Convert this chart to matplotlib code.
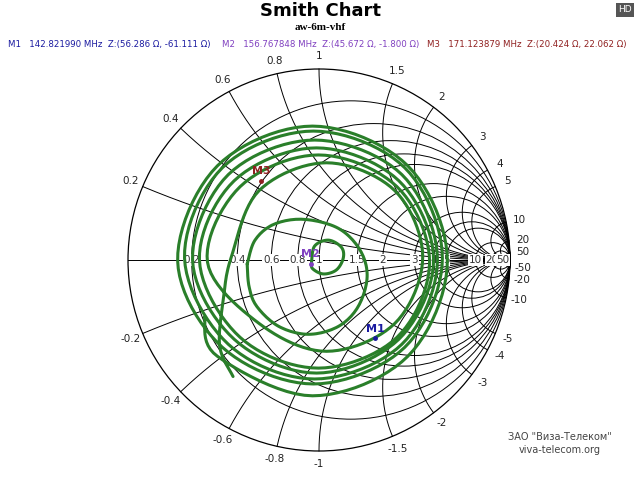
import numpy as np
import matplotlib
matplotlib.use("Agg")
import matplotlib.pyplot as plt
from matplotlib.patches import Circle

# ---------------- data ----------------
r_values = [0.2, 0.4, 0.6, 0.8, 1, 1.5, 2, 3, 4, 5, 10, 20, 50]
x_values = [0.2, 0.4, 0.6, 0.8, 1, 1.5, 2, 3, 4, 5, 10, 20, 50]
r_labels = ["0.2", "0.4", "0.6", "0.8", "1", "1.5", "2", "3", "4", "5", "10", "20", "50"]
x_labels = ["0.2", "0.4", "0.6", "0.8", "1", "1.5", "2", "3", "4", "5", "10", "20", "50"]

loop_re = [-0.039, -0.023, 0.049, 0.117, 0.127, 0.091, 0.023, -0.034, -0.039]
loop_im = [-0.010, 0.073, 0.104, 0.067, 0.010, -0.052, -0.073, -0.045, -0.010]
ring2_re = [-0.376, -0.335, -0.236, -0.080, 0.101, 0.215, 0.252, 0.205, 0.101, -0.055, -0.210, -0.325, -0.366, -0.376]
ring2_im = [-0.021, 0.104, 0.187, 0.213, 0.166, 0.052, -0.088, -0.244, -0.348, -0.389, -0.348, -0.244, -0.140, -0.021]
spiral_re = [-0.45, -0.52, -0.50, -0.459, -0.314, 0.039, 0.397, 0.543, 0.397, 0.039, -0.314,
             -0.584, -0.413, -0.003, 0.408, 0.579, 0.408, -0.003, -0.413,
             -0.626, -0.444, -0.013, 0.418, 0.600, 0.418, -0.013, -0.444,
             -0.662, -0.475, -0.023, 0.434, 0.620, 0.434, -0.023, -0.475,
             -0.704, -0.506, -0.029, 0.449, 0.646, 0.449, -0.029, -0.506,
             -0.740, -0.532, -0.034, 0.465, 0.672, 0.465, -0.034, -0.532, -0.600]
spiral_im = [-0.61, -0.45, -0.20, 0.016, 0.363, 0.509, 0.363, 0.016, -0.332, -0.478, -0.332,
             -0.010, 0.384, 0.550, 0.384, -0.010, -0.405, -0.566, -0.405,
             0.000, 0.415, 0.587, 0.415, 0.000, -0.415, -0.592, -0.415,
             0.000, 0.447, 0.628, 0.447, 0.000, -0.441, -0.623, -0.441,
             0.010, 0.483, 0.675, 0.483, 0.010, -0.457, -0.649, -0.457,
             -0.005, 0.493, 0.701, 0.493, -0.005, -0.504, -0.711, -0.504, -0.300]

marker_names = ["M1", "M2", "M3"]
marker_re = [0.293, -0.044, -0.304]
marker_im = [-0.410, -0.021, 0.415]
marker_colors = ["#1a1aa0", "#8040c0", "#902020"]
marker_texts = ["M1   142.821990 MHz  Z:(56.286 Ω, -61.111 Ω)",
                "M2   156.767848 MHz  Z:(45.672 Ω, -1.800 Ω)",
                "M3   171.123879 MHz  Z:(20.424 Ω, 22.062 Ω)"]


def smooth(xs, ys, n=12):
    P = np.column_stack([xs, ys])
    Pp = np.vstack([P[0], P, P[-1]])
    out = []
    for i in range(1, len(Pp) - 2):
        p0, p1, p2, p3 = Pp[i - 1], Pp[i], Pp[i + 1], Pp[i + 2]
        for t in np.linspace(0, 1, n, endpoint=False):
            out.append(0.5 * ((2 * p1) + (-p0 + p2) * t + (2 * p0 - 5 * p1 + 4 * p2 - p3) * t ** 2
                              + (-p0 + 3 * p1 - 3 * p2 + p3) * t ** 3))
    out.append(P[-1])
    return np.array(out)


fig = plt.figure(figsize=(6.4, 4.8), dpi=100)
ax = fig.add_axes([0, 0, 1, 1])
ax.set_xlim(-319 / 191, 321 / 191)
ax.set_ylim(-220 / 191, 260 / 191)
ax.axis("off")

lw = 0.7
ax.add_patch(Circle((0, 0), 1, fill=False, ec="black", lw=0.9, zorder=2))
ax.plot([-1, 1], [0, 0], color="black", lw=lw, zorder=1)
for r in r_values:
    ax.add_patch(Circle((r / (1 + r), 0), 1 / (1 + r), fill=False, ec="black", lw=lw, zorder=1))
rr = np.concatenate([[0], np.logspace(-3, 4, 600)])
for x in x_values:
    for s in (1, -1):
        z = rr + 1j * s * x
        g = (z - 1) / (z + 1)
        ax.plot(g.real, g.imag, color="black", lw=lw, zorder=1)

for r, lab in zip(r_values, r_labels):
    gx = (r - 1) / (r + 1)
    ax.text(gx, 0, lab, ha="center", va="center", fontsize=7.5, color="#333333",
            bbox=dict(fc="white", ec="none", pad=0.5), zorder=3)

for x, lab in zip(x_values, x_labels):
    for s in (1, -1):
        g = (1j * s * x - 1) / (1j * s * x + 1)
        ang = np.angle(g)
        rad = 1.07
        ax.text(rad * np.cos(ang), rad * np.sin(ang), ("-" if s < 0 else "") + lab,
                ha="center", va="center", fontsize=7.5, color="#222222", zorder=3)

green = "#2a7f2a"
for xs_, ys_ in ((loop_re, loop_im), (ring2_re, ring2_im), (spiral_re, spiral_im)):
    pts = smooth(xs_, ys_)
    ax.plot(pts[:, 0], pts[:, 1], color=green, lw=2.2, zorder=4, solid_capstyle="round")

for n, xr, xi, c in zip(marker_names, marker_re, marker_im, marker_colors):
    ax.plot(xr, xi, "o", ms=2.5, color=c, zorder=5)
    ax.text(xr, xi + 0.025, n, ha="center", va="bottom", fontsize=8, fontweight="bold", color=c, zorder=6)

fig.text(0.5, 1 - 11 / 480, "Smith Chart", ha="center", va="center", fontsize=13, fontweight="bold")
fig.text(0.5, 1 - 28 / 480, "aw-6m-vhf", ha="center", va="center", fontsize=8, fontweight="bold",
         family="Liberation Serif")
xs = [8, 222, 427]
for x0, t, c in zip(xs, marker_texts, marker_colors):
    fig.text(x0 / 640, 1 - 45 / 480, t, ha="left", va="center", fontsize=6.2, color=c)
fig.text(625 / 640, 1 - 10 / 480, "HD", ha="center", va="center", fontsize=6.5, color="white",
         bbox=dict(fc="#555555", ec="none", pad=1.5))
fig.text(560 / 640, 1 - 437 / 480, "ЗАО \"Виза-Телеком\"", ha="center", va="center", fontsize=7, color="#444444")
fig.text(560 / 640, 1 - 450 / 480, "viva-telecom.org", ha="center", va="center", fontsize=7, color="#444444")

fig.savefig("out.png", dpi=100)
